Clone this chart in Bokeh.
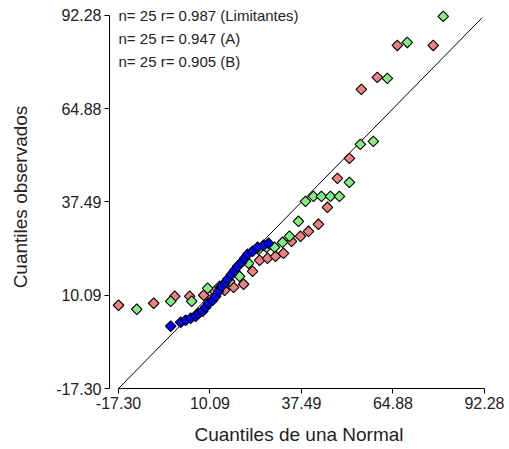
import numpy as np
from bokeh.plotting import figure
from bokeh.models import FixedTicker, NumeralTickFormatter, Label, Range1d
from bokeh.embed import file_html
from bokeh.resources import INLINE

# ---- data ----
tick_values = [-17.30, 10.09, 37.49, 64.88, 92.28]

legend_texts = [
    "n= 25 r= 0.987 (Limitantes)",
    "n= 25 r= 0.947 (A)",
    "n= 25 r= 0.905 (B)",
]

red_x = [-17.30, -6.75, -0.47, 4.01, 8.20, 11.49, 14.47, 17.16, 20.15, 22.84,
         24.94, 27.33, 29.72, 32.11, 34.50, 37.19, 39.58, 42.57, 45.26, 48.25,
         51.84, 55.42, 60.21, 66.19, 76.95]
red_y = [7.15, 7.74, 9.79, 9.79, 10.09, 11.26, 11.55, 12.43, 13.32, 17.13,
         20.36, 20.95, 21.53, 22.42, 25.94, 27.41, 28.87, 30.93, 35.92, 44.43,
         50.30, 70.56, 74.08, 83.47, 83.47]

green_x = [-11.83, -1.67, 4.61, 9.39, 12.98, 15.97, 18.96, 21.65, 24.64, 27.03,
           29.42, 31.81, 33.90, 36.59, 38.69, 41.08, 43.47, 46.16, 48.85, 51.84,
           55.13, 59.01, 63.20, 69.17, 79.94]
green_y = [5.98, 8.32, 8.32, 12.14, 12.73, 14.20, 15.66, 19.48, 23.59, 24.18,
           24.18, 25.64, 27.41, 31.81, 37.68, 39.15, 39.15, 39.15, 39.15, 43.26,
           54.41, 55.29, 73.79, 84.35, 91.99]

blue_x = [-1.67, 1.32, 2.82, 4.31, 5.81, 6.70, 7.90, 8.79, 9.69, 10.89,
          11.78, 12.68, 13.58, 14.47, 15.37, 16.57, 17.46, 18.36, 19.56, 20.45,
          21.35, 22.84, 24.34, 26.13, 27.63]
blue_y = [0.99, 2.16, 2.75, 3.33, 3.92, 4.80, 5.39, 6.56, 7.74, 8.62,
          9.79, 11.26, 12.73, 13.61, 14.78, 16.25, 17.42, 18.60, 19.77, 20.95,
          22.12, 23.00, 24.18, 24.76, 25.35]

ref_line = [-17.30, 91.6]

FONT = "Liberation Sans"

p = figure(width=509, height=449, output_backend="svg", toolbar_location=None,
           x_range=Range1d(-20.0, 93.5), y_range=Range1d(-17.30, 95.2),
           min_border_left=109, min_border_right=21, min_border_top=5,
           min_border_bottom=61)

p.outline_line_color = None
p.xgrid.visible = False
p.ygrid.visible = False
p.background_fill_color = "white"
p.border_fill_color = "white"

# reference line y = x
p.line(ref_line, ref_line, line_color="black", line_width=1)

marker_kw = dict(marker="square", angle=np.pi / 4, size=7.5,
                 line_color="black", line_width=1.1)
p.scatter(red_x, red_y, fill_color="#F08080", **marker_kw)
p.scatter(green_x, green_y, fill_color="#80EE80", **marker_kw)
p.scatter(blue_x, blue_y, fill_color="#0000FF", **marker_kw)

for ax in (p.xaxis[0], p.yaxis[0]):
    ax.ticker = FixedTicker(ticks=tick_values)
    ax.formatter = NumeralTickFormatter(format="0.00")
    ax.bounds = (tick_values[0], tick_values[-1])
    ax.minor_tick_line_color = None
    ax.major_tick_out = 5
    ax.major_tick_in = 0
    ax.axis_line_color = "black"
    ax.major_tick_line_color = "black"
    ax.major_label_text_font = FONT
    ax.major_label_text_font_size = "16px"
    ax.major_label_text_color = "#222222"
    ax.axis_label_text_font = FONT
    ax.axis_label_text_font_size = "19px"
    ax.axis_label_text_font_style = "normal"
    ax.axis_label_text_color = "#222222"
    ax.major_label_standoff = 3

p.xaxis.axis_label = "Cuantiles de una Normal"
p.yaxis.axis_label = "Cuantiles observados"
p.xaxis.axis_label_standoff = 12
p.yaxis.axis_label_standoff = 22

legend_y = [92.28, 85.44, 78.78]
for txt, yy in zip(legend_texts, legend_y):
    p.add_layout(Label(x=-17.3, y=yy, text=txt, text_font=FONT,
                       text_font_size="15px", text_baseline="middle",
                       text_color="#222222"))

open("out.html", "w").write(file_html(p, INLINE))
